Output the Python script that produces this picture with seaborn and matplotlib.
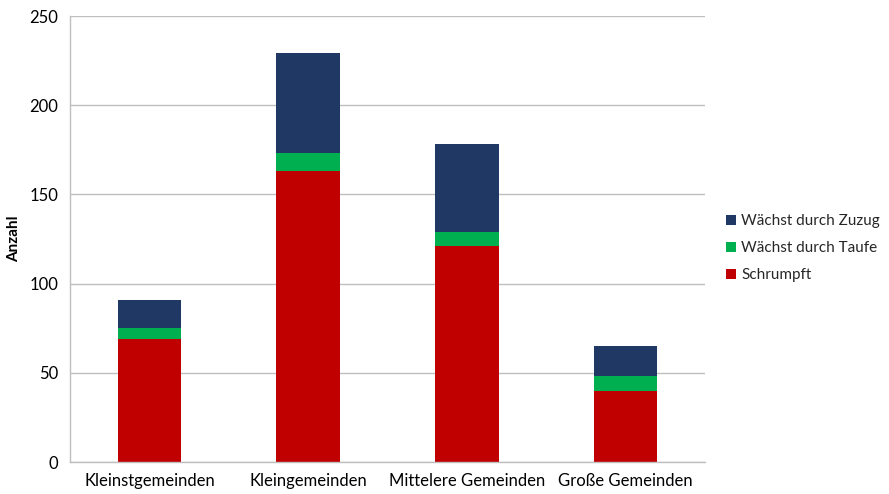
import matplotlib
matplotlib.use("Agg")
import matplotlib.pyplot as plt
import seaborn as sns
import pandas as pd
import numpy as np
from matplotlib.patches import Patch

categories = ["Kleinstgemeinden", "Kleingemeinden", "Mittelere Gemeinden", "Große Gemeinden"]
schrumpft = [69, 163, 121, 40]
taufe = [6, 10, 8, 8]
zuzug = [16, 56, 49, 17]
series_names = ["Wächst durch Zuzug", "Wächst durch Taufe", "Schrumpft"]
colors = {"Wächst durch Zuzug": "#1F3864", "Wächst durch Taufe": "#00B050", "Schrumpft": "#C00000"}

sns.set_theme(style="white")
plt.rcParams['font.family'] = ['Lato', 'DejaVu Sans']

df = pd.DataFrame({"cat": categories, "Schrumpft": schrumpft,
                   "Taufe": taufe, "Zuzug": zuzug})
df["lvl2"] = df["Schrumpft"] + df["Taufe"]
df["lvl3"] = df["lvl2"] + df["Zuzug"]

fig = plt.figure(figsize=(8.89, 4.94), dpi=100)
ax = fig.add_axes([70/889, 32/494, 635/889, 446/494])

for col, name in [("lvl3", "Wächst durch Zuzug"), ("lvl2", "Wächst durch Taufe"), ("Schrumpft", "Schrumpft")]:
    sns.barplot(data=df, x="cat", y=col, color=colors[name], width=0.4,
                saturation=1, ax=ax, linewidth=0, order=categories)

ax.set_xlim(-0.5, 3.5)
ax.set_ylim(0, 250)
ax.set_yticks(np.arange(0, 251, 50))
ax.yaxis.grid(True, color="#BFBFBF", linewidth=1)
ax.set_axisbelow(True)
ax.set_xlabel("")
ax.set_ylabel("Anzahl", fontsize=11, fontweight="bold", color="black", labelpad=6)
ax.set_xticks(range(4))
ax.set_xticklabels(categories, fontsize=12, color="black")
ax.set_xticks(np.arange(-0.5, 4.0, 1.0), minor=True)
ax.tick_params(axis="x", which="major", length=0, pad=8)
ax.tick_params(axis="x", which="minor", length=5, color="#BFBFBF", width=1, direction="out")
ax.tick_params(axis="y", length=5, color="#BFBFBF", width=1, direction="out", labelsize=12, labelcolor="black")
for s in ["top", "right"]:
    ax.spines[s].set_visible(False)
for s in ["left", "bottom"]:
    ax.spines[s].set_color("#BFBFBF")
    ax.spines[s].set_linewidth(1)

handles = [Patch(facecolor=colors[n], edgecolor="none", label=n) for n in series_names]
fig.legend(handles=handles, loc="center left", bbox_to_anchor=(712/889, 0.497),
           frameon=False, fontsize=11, handlelength=0.7, handleheight=0.7,
           handletextpad=0.3, labelspacing=0.85)

fig.savefig("out.png", dpi=100)
